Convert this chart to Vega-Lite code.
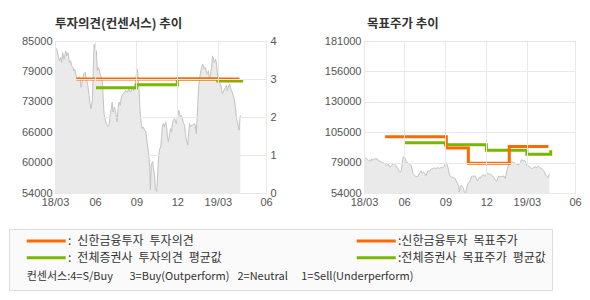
{
  "$schema": "https://vega.github.io/schema/vega-lite/v6.json",
  "padding": {"left": 8, "top": 17, "right": 0, "bottom": 0},
  "background": "white",
  "spacing": 98,
  "bounds": "flush",
  "config": {
    "font": "Noto Sans CJK KR",
    "view": {"stroke": "#bbbbbb", "strokeWidth": 1},
    "axis": {"labelFont": "Liberation Sans", "labelFontSize": 11, "labelColor": "#555555", "domain": false, "ticks": false, "tickSize": 0, "gridColor": "#e9e9e9", "gridWidth": 1, "labelFlush": false, "labelOverlap": false, "labelBound": false}
  },
  "datasets": {
    "price": [
      {"date": "2018-03-04", "price": 83780}, {"date": "2018-03-08", "price": 83310}, {"date": "2018-03-11", "price": 81960}, {"date": "2018-03-14", "price": 80950},
      {"date": "2018-03-17", "price": 81630}, {"date": "2018-03-19", "price": 80620}, {"date": "2018-03-21", "price": 82640}, {"date": "2018-03-24", "price": 81290},
      {"date": "2018-03-28", "price": 82980}, {"date": "2018-03-30", "price": 81960}, {"date": "2018-04-02", "price": 82640}, {"date": "2018-04-05", "price": 80620},
      {"date": "2018-04-08", "price": 80950}, {"date": "2018-04-10", "price": 79940}, {"date": "2018-04-13", "price": 79610}, {"date": "2018-04-15", "price": 78930},
      {"date": "2018-04-17", "price": 79270}, {"date": "2018-04-20", "price": 77920}, {"date": "2018-04-22", "price": 77250}, {"date": "2018-04-26", "price": 77590},
      {"date": "2018-04-28", "price": 77720}, {"date": "2018-05-01", "price": 75560}, {"date": "2018-05-04", "price": 76910}, {"date": "2018-05-07", "price": 78260},
      {"date": "2018-05-10", "price": 78600}, {"date": "2018-05-13", "price": 77250}, {"date": "2018-05-16", "price": 75900}, {"date": "2018-05-19", "price": 73880},
      {"date": "2018-05-21", "price": 72200}, {"date": "2018-05-23", "price": 71190}, {"date": "2018-05-26", "price": 72870}, {"date": "2018-05-28", "price": 78930},
      {"date": "2018-05-30", "price": 84320}, {"date": "2018-06-01", "price": 83310}, {"date": "2018-06-04", "price": 82980}, {"date": "2018-06-06", "price": 78930},
      {"date": "2018-06-08", "price": 79610}, {"date": "2018-06-10", "price": 79270}, {"date": "2018-06-12", "price": 78260}, {"date": "2018-06-15", "price": 77590},
      {"date": "2018-06-17", "price": 77250}, {"date": "2018-06-19", "price": 73540}, {"date": "2018-06-21", "price": 70180}, {"date": "2018-06-24", "price": 68830},
      {"date": "2018-06-26", "price": 68150}, {"date": "2018-06-28", "price": 67820}, {"date": "2018-06-30", "price": 67620}, {"date": "2018-07-02", "price": 67820},
      {"date": "2018-07-05", "price": 70180}, {"date": "2018-07-07", "price": 71190}, {"date": "2018-07-09", "price": 72530}, {"date": "2018-07-11", "price": 70510},
      {"date": "2018-07-14", "price": 71520}, {"date": "2018-07-16", "price": 70850}, {"date": "2018-07-18", "price": 69840}, {"date": "2018-07-20", "price": 68490},
      {"date": "2018-07-23", "price": 72200}, {"date": "2018-07-25", "price": 72530}, {"date": "2018-07-27", "price": 71860}, {"date": "2018-07-29", "price": 73210},
      {"date": "2018-07-31", "price": 73880}, {"date": "2018-08-03", "price": 74220}, {"date": "2018-08-05", "price": 74550}, {"date": "2018-08-07", "price": 74550},
      {"date": "2018-08-08", "price": 74890}, {"date": "2018-08-12", "price": 74550}, {"date": "2018-08-15", "price": 75230}, {"date": "2018-08-19", "price": 74550},
      {"date": "2018-08-23", "price": 75560}, {"date": "2018-08-26", "price": 74890}, {"date": "2018-08-29", "price": 76240}, {"date": "2018-09-01", "price": 78260},
      {"date": "2018-09-03", "price": 79270}, {"date": "2018-09-05", "price": 77250}, {"date": "2018-09-07", "price": 74890}, {"date": "2018-09-09", "price": 70850},
      {"date": "2018-09-12", "price": 67820}, {"date": "2018-09-14", "price": 67140}, {"date": "2018-09-16", "price": 67480}, {"date": "2018-09-19", "price": 66810},
      {"date": "2018-09-22", "price": 66470}, {"date": "2018-09-25", "price": 64110}, {"date": "2018-09-28", "price": 62090}, {"date": "2018-10-01", "price": 58720},
      {"date": "2018-10-02", "price": 54680}, {"date": "2018-10-04", "price": 59730}, {"date": "2018-10-07", "price": 60410}, {"date": "2018-10-09", "price": 58720},
      {"date": "2018-10-11", "price": 58050}, {"date": "2018-10-13", "price": 54680}, {"date": "2018-10-16", "price": 54340}, {"date": "2018-10-18", "price": 57370},
      {"date": "2018-10-20", "price": 60740}, {"date": "2018-10-22", "price": 62760}, {"date": "2018-10-25", "price": 63440}, {"date": "2018-10-27", "price": 65460},
      {"date": "2018-10-29", "price": 67820}, {"date": "2018-10-31", "price": 68150}, {"date": "2018-11-02", "price": 67480}, {"date": "2018-11-05", "price": 68490},
      {"date": "2018-11-07", "price": 67480}, {"date": "2018-11-09", "price": 65460}, {"date": "2018-11-11", "price": 64450}, {"date": "2018-11-14", "price": 66130},
      {"date": "2018-11-16", "price": 67140}, {"date": "2018-11-18", "price": 66470}, {"date": "2018-11-20", "price": 68150}, {"date": "2018-11-22", "price": 68830},
      {"date": "2018-11-25", "price": 69160}, {"date": "2018-11-27", "price": 68490}, {"date": "2018-11-29", "price": 68150}, {"date": "2018-12-01", "price": 69500},
      {"date": "2018-12-04", "price": 70850}, {"date": "2018-12-06", "price": 70170}, {"date": "2018-12-08", "price": 69500}, {"date": "2018-12-10", "price": 69840},
      {"date": "2018-12-12", "price": 69160}, {"date": "2018-12-15", "price": 68150}, {"date": "2018-12-17", "price": 67820}, {"date": "2018-12-19", "price": 66130},
      {"date": "2018-12-21", "price": 64780}, {"date": "2018-12-24", "price": 63770}, {"date": "2018-12-26", "price": 66130}, {"date": "2018-12-28", "price": 68150},
      {"date": "2018-12-30", "price": 67480}, {"date": "2019-01-01", "price": 67820}, {"date": "2019-01-04", "price": 67820}, {"date": "2019-01-07", "price": 68150},
      {"date": "2019-01-10", "price": 67820}, {"date": "2019-01-12", "price": 66130}, {"date": "2019-01-14", "price": 69500}, {"date": "2019-01-17", "price": 74890},
      {"date": "2019-01-19", "price": 77250}, {"date": "2019-01-21", "price": 78260}, {"date": "2019-01-23", "price": 79270}, {"date": "2019-01-26", "price": 80280},
      {"date": "2019-01-28", "price": 79940}, {"date": "2019-01-30", "price": 79270}, {"date": "2019-02-01", "price": 79610}, {"date": "2019-02-04", "price": 78600},
      {"date": "2019-02-06", "price": 78260}, {"date": "2019-02-08", "price": 78930}, {"date": "2019-02-10", "price": 77250}, {"date": "2019-02-12", "price": 77920},
      {"date": "2019-02-15", "price": 79610}, {"date": "2019-02-17", "price": 81960}, {"date": "2019-02-19", "price": 81630}, {"date": "2019-02-21", "price": 80620},
      {"date": "2019-02-24", "price": 81290}, {"date": "2019-02-26", "price": 80280}, {"date": "2019-02-28", "price": 78260}, {"date": "2019-03-02", "price": 76570},
      {"date": "2019-03-04", "price": 76570}, {"date": "2019-03-07", "price": 76240}, {"date": "2019-03-09", "price": 75230}, {"date": "2019-03-11", "price": 74220},
      {"date": "2019-03-13", "price": 74550}, {"date": "2019-03-16", "price": 75230}, {"date": "2019-03-18", "price": 75560}, {"date": "2019-03-20", "price": 75900},
      {"date": "2019-03-22", "price": 74890}, {"date": "2019-03-24", "price": 75560}, {"date": "2019-03-27", "price": 76240}, {"date": "2019-03-29", "price": 75560},
      {"date": "2019-03-31", "price": 74890}, {"date": "2019-04-02", "price": 74550}, {"date": "2019-04-05", "price": 73540}, {"date": "2019-04-07", "price": 72870},
      {"date": "2019-04-09", "price": 71520}, {"date": "2019-04-11", "price": 69500}, {"date": "2019-04-13", "price": 68490}, {"date": "2019-04-16", "price": 67480},
      {"date": "2019-04-17", "price": 66810}, {"date": "2019-04-19", "price": 69160}, {"date": "2019-04-20", "price": 69840}
    ],
    "opinion": [
      {"date": "2018-06-01", "value": 2.77, "series": "전체증권사 투자의견 평균값"},
      {"date": "2018-09-01", "value": 2.85, "series": "전체증권사 투자의견 평균값"},
      {"date": "2018-12-01", "value": 3.0, "series": "전체증권사 투자의견 평균값"},
      {"date": "2019-03-01", "value": 2.95, "series": "전체증권사 투자의견 평균값"},
      {"date": "2019-04-23", "value": 3.0, "series": "전체증권사 투자의견 평균값"},
      {"date": "2018-04-20", "value": 3, "series": "신한금융투자 투자의견"},
      {"date": "2019-04-18", "value": 3, "series": "신한금융투자 투자의견"}
    ],
    "target": [
      {"date": "2018-06-01", "value": 96000, "series": "전체증권사 목표주가 평균값"},
      {"date": "2018-09-01", "value": 94400, "series": "전체증권사 목표주가 평균값"},
      {"date": "2018-12-01", "value": 89700, "series": "전체증권사 목표주가 평균값"},
      {"date": "2019-03-01", "value": 86400, "series": "전체증권사 목표주가 평균값"},
      {"date": "2019-04-23", "value": 89700, "series": "전체증권사 목표주가 평균값"},
      {"date": "2018-04-20", "value": 101000, "series": "신한금융투자 목표주가"},
      {"date": "2018-09-03", "value": 91500, "series": "신한금융투자 목표주가"},
      {"date": "2018-10-22", "value": 78800, "series": "신한금융투자 목표주가"},
      {"date": "2019-01-21", "value": 92800, "series": "신한금융투자 목표주가"},
      {"date": "2019-04-18", "value": 92800, "series": "신한금융투자 목표주가"}
    ]
  },
  "hconcat": [
    {
      "width": 211,
      "height": 152,
      "title": {"text": "투자의견(컨센서스) 추이", "anchor": "start", "frame": "group", "offset": 4.5, "font": "Noto Sans CJK KR", "fontSize": 12.5, "fontWeight": "bold", "color": "#333333"},
      "layer": [
        {
          "data": {"name": "price"},
          "mark": {"type": "area", "color": "#e1e1e1", "line": {"color": "#c2c2c2", "strokeWidth": 1}, "clip": true},
          "encoding": {
            "x": {"field": "date", "type": "temporal",
              "scale": {"type": "utc", "domain": [{"year": 2018, "month": 3, "date": 4, "utc": true}, {"year": 2019, "month": 6, "date": 16, "utc": true}]},
              "axis": {"title": null, "grid": true, "zindex": 1, "labelPadding": 3.5,
                "values": [{"year": 2018, "month": 3, "date": 4, "utc": true}, {"year": 2018, "month": 6, "date": 1, "utc": true}, {"year": 2018, "month": 9, "date": 1, "utc": true}, {"year": 2018, "month": 12, "date": 1, "utc": true}, {"year": 2019, "month": 3, "date": 1, "utc": true}, {"year": 2019, "month": 6, "date": 16, "utc": true}],
                "labelExpr": "utcmonth(datum.value) == 2 ? utcFormat(datum.value, '%y/%m') : utcFormat(datum.value, '%m')"}},
            "y": {"field": "price", "type": "quantitative",
              "scale": {"domain": [54000, 85000], "zero": false, "nice": false},
              "axis": {"title": null, "grid": false, "labelPadding": 3, "labelOverlap": false, "values": [54000, 60200, 66400, 72600, 78800, 85000], "labelExpr": "format(round(datum.value/1000)*1000, 'd')"}}
          }
        },
        {
          "data": {"name": "opinion"},
          "mark": {"type": "line", "interpolate": "step-after", "strokeWidth": 3},
          "encoding": {
            "x": {"field": "date", "type": "temporal"},
            "y": {"field": "value", "type": "quantitative",
              "scale": {"domain": [0, 4], "nice": false, "zero": true},
              "axis": {"title": null, "orient": "right", "grid": true, "zindex": 1, "labelPadding": 4, "values": [0, 1, 2, 3, 4], "format": "d"}},
            "color": {"field": "series", "type": "nominal",
              "scale": {"domain": ["신한금융투자 투자의견", "전체증권사 투자의견 평균값", "_1", "신한금융투자 목표주가", "전체증권사 목표주가 평균값", "_2"], "range": ["#ff6a00", "#7ab800", "#fafafa", "#ff6a00", "#7ab800", "#fafafa"]},
              "legend": {"orient": "none", "legendX": -46, "legendY": 188, "columns": 2, "columnPadding": 123, "rowPadding": 4.7, "title": null, "zindex": 1,
                "symbolType": "M-4.33,0H4.33", "symbolSize": 81, "symbolStrokeWidth": 3, "symbolOffset": 25.2,
                "labelFont": "Noto Sans CJK KR", "labelFontSize": 12, "labelColor": "#333333", "labelOffset": 15.8, "labelLimit": 600,
                "labelExpr": "indexof(datum.label, '_') == 0 ? '\u00a0' : indexof(datum.label, '목표주가') >= 0 ? (':' + replace(datum.label, regexp(' ', 'g'), '\u2002') + '\u3000\u3000') : (':\u2002' + replace(datum.label, regexp(' ', 'g'), '\u2002') + '\u2002\u2002')",
                "padding": 6, "strokeColor": "#dcdcdc", "fillColor": "#fafafa",
                "encode": {"labels": {"update": {"dy": {"signal": "indexof(datum.label, '_') == 0 ? 3.3 : 0"}}}}}},
            "opacity": {"datum": "컨센서스:4=S/Buy\u2002\u2002\u20023=Buy(Outperform)\u2002\u00a02=Neutral\u2002\u2002\u00a01=Sell(Underperform)", "type": "ordinal",
              "scale": {"range": [1]},
              "legend": {"orient": "none", "legendX": -39.3, "legendY": 230, "title": null, "padding": 0, "zindex": 2,
                "symbolType": "circle", "symbolSize": 1, "symbolStrokeWidth": 0, "symbolFillColor": "transparent", "symbolStrokeColor": "transparent", "symbolOffset": 0,
                "labelOffset": 0, "labelFont": "Noto Sans CJK KR", "labelFontSize": 11, "labelColor": "#333333", "labelLimit": 600,
                "encode": {"symbols": {"update": {"opacity": {"value": 0}}}}}}
          }
        }
      ],
      "resolve": {"scale": {"y": "independent"}}
    },
    {
      "width": 211,
      "height": 152,
      "title": {"text": "목표주가 추이", "anchor": "start", "frame": "group", "offset": 4.5, "dx": 3, "font": "Noto Sans CJK KR", "fontSize": 12.5, "fontWeight": "bold", "color": "#333333"},
      "layer": [
        {
          "data": {"name": "price"},
          "mark": {"type": "area", "color": "#e1e1e1", "line": {"color": "#c2c2c2", "strokeWidth": 1}, "clip": true},
          "encoding": {
            "x": {"field": "date", "type": "temporal",
              "scale": {"type": "utc", "domain": [{"year": 2018, "month": 3, "date": 4, "utc": true}, {"year": 2019, "month": 6, "date": 16, "utc": true}]},
              "axis": {"title": null, "grid": true, "zindex": 1, "labelPadding": 3.5,
                "values": [{"year": 2018, "month": 3, "date": 4, "utc": true}, {"year": 2018, "month": 6, "date": 1, "utc": true}, {"year": 2018, "month": 9, "date": 1, "utc": true}, {"year": 2018, "month": 12, "date": 1, "utc": true}, {"year": 2019, "month": 3, "date": 1, "utc": true}, {"year": 2019, "month": 6, "date": 16, "utc": true}],
                "labelExpr": "utcmonth(datum.value) == 2 ? utcFormat(datum.value, '%y/%m') : utcFormat(datum.value, '%m')"}},
            "y": {"field": "price", "type": "quantitative",
              "scale": {"domain": [54000, 181000], "zero": false, "nice": false},
              "axis": {"title": null, "grid": true, "zindex": 1, "labelPadding": 3, "labelOverlap": false, "values": [54000, 79400, 104800, 130200, 155600, 181000], "labelExpr": "format(round(datum.value/1000)*1000, 'd')"}}
          }
        },
        {
          "data": {"name": "target"},
          "mark": {"type": "line", "interpolate": "step-after", "strokeWidth": 3},
          "encoding": {
            "x": {"field": "date", "type": "temporal"},
            "y": {"field": "value", "type": "quantitative",
              "axis": {"title": null, "grid": true, "zindex": 1, "labelPadding": 3, "labelOverlap": false, "values": [54000, 79400, 104800, 130200, 155600, 181000], "labelExpr": "format(round(datum.value/1000)*1000, 'd')"}},
            "color": {"field": "series", "type": "nominal"}
          }
        }
      ]
    }
  ]
}
